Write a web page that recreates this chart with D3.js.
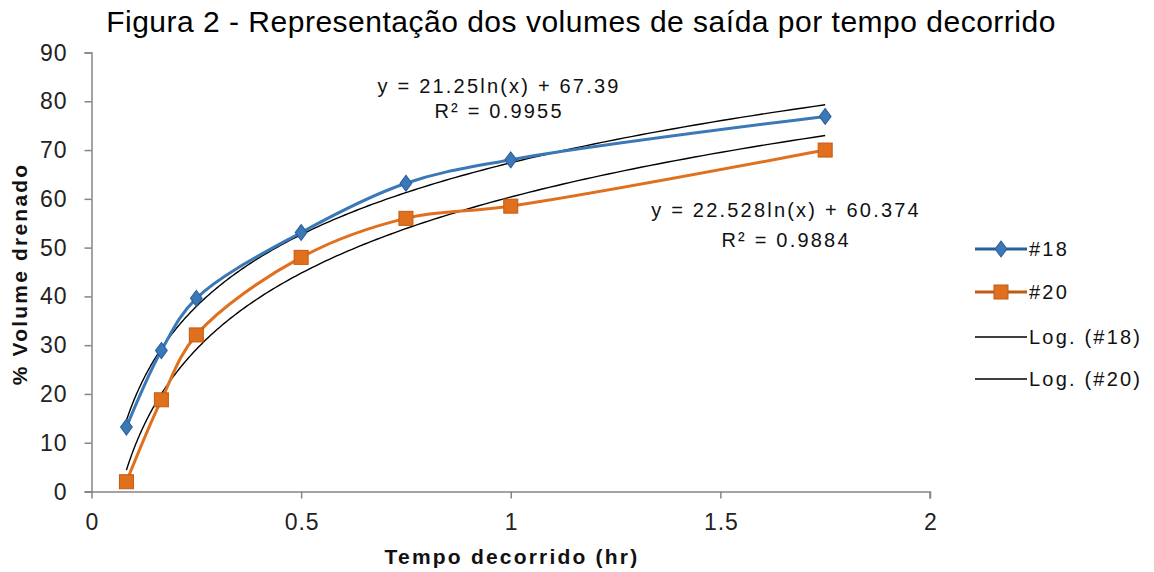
<!DOCTYPE html>
<html><head><meta charset="utf-8">
<script src="https://cdn.jsdelivr.net/npm/d3@7"></script>
<style>body{margin:0;background:#fff}svg{display:block}text{font-family:"Liberation Sans",Arial,sans-serif}</style>
</head><body>
<svg id="c" width="1154" height="572"></svg>
<script>
const times = [0.0833, 0.1667, 0.25, 0.5, 0.75, 1, 1.75];
const s18 = [13.2, 28.9, 39.6, 53.1, 63.2, 68.0, 76.9];
const s20 = [2.0, 18.8, 32.1, 48.0, 56.0, 58.5, 70.0];
const trend18 = {a: 21.25, b: 67.39, label: "y = 21.25ln(x) + 67.39", r2: "R² = 0.9955"};
const trend20 = {a: 22.528, b: 60.374, label: "y = 22.528ln(x) + 60.374", r2: "R² = 0.9884"};
const xTicks = [0, 0.5, 1, 1.5, 2];
const yTicks = [0, 10, 20, 30, 40, 50, 60, 70, 80, 90];
const legendNames = ["#18", "#20", "Log. (#18)", "Log. (#20)"];

const svg = d3.select("#c");
const x = d3.scaleLinear().domain([0, 2]).range([91.5, 930]);
const y = d3.scaleLinear().domain([0, 90]).range([491.5, 52.5]);

svg.append("text").attr("x", 581).attr("y", 32).attr("text-anchor", "middle")
  .attr("font-size", 30).attr("letter-spacing", 0.5).attr("fill", "#000")
  .text("Figura 2 - Representação dos volumes de saída por tempo decorrido");

const axisColor = "#858585";
const xa = svg.append("g").attr("transform", `translate(0,${y(0)})`)
  .call(d3.axisBottom(x).tickValues(xTicks).tickFormat(d3.format("")).tickSizeInner(7).tickSizeOuter(7));
const ya = svg.append("g").attr("transform", `translate(${x(0)},0)`)
  .call(d3.axisLeft(y).tickValues(yTicks).tickSizeInner(7).tickSizeOuter(7));
[xa, ya].forEach(g => {
  g.selectAll("path,line").attr("stroke", axisColor).attr("stroke-width", 1.5);
  g.selectAll("text").attr("font-size", 23).attr("fill", "#222").attr("letter-spacing", 1)
    .style("font-family", '"Liberation Sans",Arial,sans-serif');
});
xa.select("path").attr("d", `M${x(0)-6},0.5H${x(2)}V7`);
xa.selectAll("text").attr("y", 38.5).attr("dy", 0).attr("dx", 0.5);
ya.selectAll("text").attr("x", -24).attr("dy", "0.33em");

svg.append("text").attr("x", 512).attr("y", 564).attr("text-anchor", "middle")
  .attr("font-size", 21).attr("font-weight", "bold").attr("letter-spacing", 2.2).attr("fill", "#111")
  .text("Tempo decorrido (hr)");
svg.append("text").attr("transform", "translate(27,274) rotate(-90)").attr("text-anchor", "middle")
  .attr("font-size", 21).attr("font-weight", "bold").attr("letter-spacing", 2.2).attr("fill", "#111")
  .text("% Volume drenado");

// trendlines
function trendPts(t) {
  const lo = times[0], hi = times[times.length - 1];
  return d3.range(0, 201).map(i => {
    const xv = lo * Math.pow(hi / lo, i / 200);
    return [x(xv), y(t.a * Math.log(xv) + t.b)];
  });
}
const lineP = d3.line();
[trend18, trend20].forEach(t => {
  svg.append("path").attr("d", lineP(trendPts(t))).attr("fill", "none")
    .attr("stroke", "#000").attr("stroke-width", 1.4);
});

// series
const smooth = d3.line().x(d => x(d[0])).y(d => y(d[1])).curve(d3.curveCatmullRom.alpha(0.5));
const blue = "#3a78b8", blueDark = "#2a5f9a", orange = "#e0701e", orangeDark = "#c25a10";
const d18 = times.map((t, i) => [t, s18[i]]);
const d20 = times.map((t, i) => [t, s20[i]]);
svg.append("path").attr("d", smooth(d20)).attr("fill", "none").attr("stroke", orange).attr("stroke-width", 3);
svg.append("path").attr("d", smooth(d18)).attr("fill", "none").attr("stroke", blue).attr("stroke-width", 3);

const diamond = d3.symbol().type(d3.symbolDiamond).size(90);
function diamondAt(g, cx, cy) {
  g.append("path").attr("d", diamond()).attr("transform", `translate(${cx},${cy}) scale(1.15,0.9)`)
    .attr("fill", blue).attr("stroke", blueDark).attr("stroke-width", 1);
}
function squareAt(g, cx, cy) {
  g.append("rect").attr("x", cx - 7).attr("y", cy - 7).attr("width", 14).attr("height", 14)
    .attr("fill", orange).attr("stroke", orangeDark).attr("stroke-width", 1);
}
const m = svg.append("g");
d20.forEach(d => squareAt(m, x(d[0]), y(d[1])));
d18.forEach(d => diamondAt(m, x(d[0]), y(d[1])));

// equations
const ls = 2.2;
function eq(t, cx, b1, b2) {
  svg.append("text").attr("x", cx + ls / 2).attr("y", b1).attr("text-anchor", "middle")
    .attr("font-size", 20).attr("letter-spacing", ls).attr("fill", "#111").text(t.label);
  svg.append("text").attr("x", cx + ls / 2).attr("y", b2).attr("text-anchor", "middle")
    .attr("font-size", 20).attr("letter-spacing", ls).attr("fill", "#111").text(t.r2);
}
eq(trend18, 498, 93, 118);
eq(trend20, 785, 217, 247);

// legend
const ly = [249, 292, 337, 379];
const lg = svg.append("g");
legendNames.forEach((n, i) => {
  const yy = ly[i];
  const col = i === 0 ? blueDark : i === 1 ? orangeDark : "#000";
  lg.append("line").attr("x1", 975).attr("x2", 1027).attr("y1", yy).attr("y2", yy)
    .attr("stroke", col).attr("stroke-width", i < 2 ? 3 : 1.4);
  if (i === 0) diamondAt(lg, 1001, yy);
  if (i === 1) squareAt(lg, 1001, yy);
  lg.append("text").attr("x", 1029).attr("y", yy).attr("dy", "0.36em").attr("font-size", 20)
    .attr("letter-spacing", 2.2).attr("fill", "#111").text(n);
});
</script>
</body></html>
